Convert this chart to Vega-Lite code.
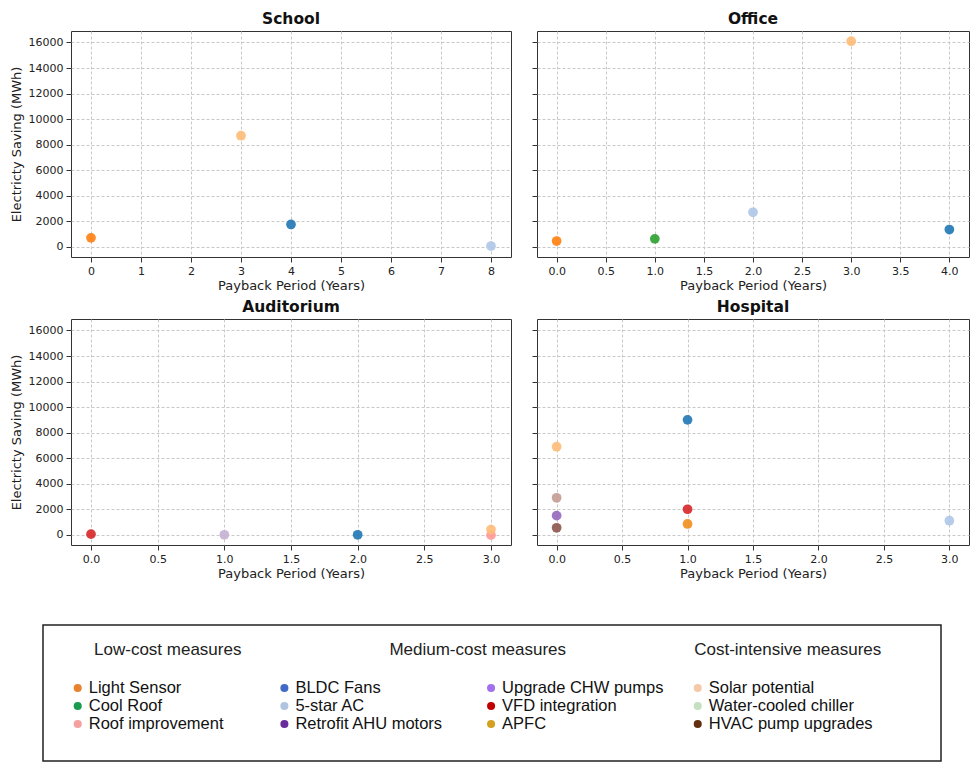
{
  "$schema": "https://vega.github.io/schema/vega-lite/v6.json",
  "data": {"values": [
    {"building": "School", "measure": "Light Sensor", "payback": 0, "saving": 700},
    {"building": "School", "measure": "Solar potential", "payback": 3, "saving": 8700},
    {"building": "School", "measure": "BLDC Fans", "payback": 4, "saving": 1750},
    {"building": "School", "measure": "5-star AC", "payback": 8, "saving": 60},
    {"building": "Office", "measure": "Light Sensor", "payback": 0, "saving": 450},
    {"building": "Office", "measure": "Cool Roof", "payback": 1, "saving": 620},
    {"building": "Office", "measure": "5-star AC", "payback": 2, "saving": 2700},
    {"building": "Office", "measure": "Solar potential", "payback": 3, "saving": 16100},
    {"building": "Office", "measure": "BLDC Fans", "payback": 4, "saving": 1350},
    {"building": "Auditorium", "measure": "VFD integration", "payback": 0, "saving": 50},
    {"building": "Auditorium", "measure": "Retrofit AHU motors", "payback": 1, "saving": 0},
    {"building": "Auditorium", "measure": "BLDC Fans", "payback": 2, "saving": 0},
    {"building": "Auditorium", "measure": "Roof improvement", "payback": 3, "saving": -30},
    {"building": "Auditorium", "measure": "Solar potential", "payback": 3, "saving": 410},
    {"building": "Hospital", "measure": "Solar potential", "payback": 0, "saving": 6900},
    {"building": "Hospital", "measure": "Water-cooled chiller", "payback": 0, "saving": 2900},
    {"building": "Hospital", "measure": "Upgrade CHW pumps", "payback": 0, "saving": 1500},
    {"building": "Hospital", "measure": "HVAC pump upgrades", "payback": 0, "saving": 550},
    {"building": "Hospital", "measure": "BLDC Fans", "payback": 1, "saving": 9000},
    {"building": "Hospital", "measure": "VFD integration", "payback": 1, "saving": 2000},
    {"building": "Hospital", "measure": "APFC", "payback": 1, "saving": 850},
    {"building": "Hospital", "measure": "5-star AC", "payback": 3, "saving": 1100}
  ]},
  "datasets": {
    "legend": [
      {"group": "Low-cost measures", "measure": "Light Sensor", "col": 1, "row": 1},
      {"group": "Low-cost measures", "measure": "Cool Roof", "col": 1, "row": 2},
      {"group": "Low-cost measures", "measure": "Roof improvement", "col": 1, "row": 3},
      {"group": "Medium-cost measures", "measure": "BLDC Fans", "col": 2, "row": 1},
      {"group": "Medium-cost measures", "measure": "5-star AC", "col": 2, "row": 2},
      {"group": "Medium-cost measures", "measure": "Retrofit AHU motors", "col": 2, "row": 3},
      {"group": "Medium-cost measures", "measure": "Upgrade CHW pumps", "col": 3, "row": 1},
      {"group": "Medium-cost measures", "measure": "VFD integration", "col": 3, "row": 2},
      {"group": "Medium-cost measures", "measure": "APFC", "col": 3, "row": 3},
      {"group": "Cost-intensive measures", "measure": "Solar potential", "col": 4, "row": 1},
      {"group": "Cost-intensive measures", "measure": "Water-cooled chiller", "col": 4, "row": 2},
      {"group": "Cost-intensive measures", "measure": "HVAC pump upgrades", "col": 4, "row": 3}
    ],
    "empty": []
  },
  "config": {
    "font": "DejaVu Sans",
    "padding": {"left": 8, "top": 11, "right": 0, "bottom": 0},
    "view": {"stroke": "#333333", "strokeWidth": 1},
    "axis": {
      "labelFont": "DejaVu Sans", "labelFontSize": 11, "labelColor": "#222222",
      "titleFont": "DejaVu Sans", "titleFontSize": 13, "titleFontWeight": "normal", "titleColor": "#222222",
      "tickColor": "#333333", "tickSize": 5, "domain": false,
      "gridColor": "#c8c8c8", "gridDash": [3, 2], "labelPadding": 3
    },
    "axisY": {"titlePadding": 5},
    "axisX": {"titlePadding": 3},
    "title": {"font": "DejaVu Sans", "fontSize": 15.5, "fontWeight": "bold", "color": "#111111", "offset": 4}
  },
  "resolve": {"scale": {"color": "independent"}},
  "spacing": 43,
  "vconcat": [
    {
      "spacing": 0,
      "hconcat": [
        {
          "data": {"name": "empty"},
          "width": 1, "height": 1,
          "view": {"stroke": null},
          "mark": "point",
          "encoding": {}
        },
        {
          "spacing": 6,
          "vconcat": [
            {
              "spacing": 19,
              "hconcat": [
                {
                  "title": "School",
                  "width": 440, "height": 226,
                  "transform": [{"filter": "datum.building === 'School'"}],
                  "mark": {"type": "circle", "size": 95, "opacity": 0.9},
                  "encoding": {
                    "x": {"field": "payback", "type": "quantitative", "title": "Payback Period (Years)",
                          "scale": {"domain": [-0.4, 8.4], "nice": false, "zero": false},
                          "axis": {"values": [0, 1, 2, 3, 4, 5, 6, 7, 8], "format": "d"}},
                    "y": {"field": "saving", "type": "quantitative", "title": "Electricty Saving (MWh)",
                          "scale": {"domain": [-800, 16900], "nice": false, "zero": false},
                          "axis": {"values": [0, 2000, 4000, 6000, 8000, 10000, 12000, 14000, 16000], "format": "d"}},
                    "color": {"field": "measure", "type": "nominal", "legend": null,
                              "scale": {"domain": ["Light Sensor", "Cool Roof", "Roof improvement", "BLDC Fans", "5-star AC", "Retrofit AHU motors", "Upgrade CHW pumps", "VFD integration", "APFC", "Solar potential", "Water-cooled chiller", "HVAC pump upgrades"],
                                        "range": ["#ff7f0e", "#2ca02c", "#ff9896", "#1f77b4", "#aec7e8", "#c5b0d5", "#9467bd", "#d62728", "#f28e1c", "#ffbb78", "#c49c94", "#8c564b"]}}
                  }
                },
                {
                  "title": "Office",
                  "width": 432, "height": 226,
                  "transform": [{"filter": "datum.building === 'Office'"}],
                  "mark": {"type": "circle", "size": 95, "opacity": 0.9},
                  "encoding": {
                    "x": {"field": "payback", "type": "quantitative", "title": "Payback Period (Years)",
                          "scale": {"domain": [-0.2, 4.2], "nice": false, "zero": false},
                          "axis": {"values": [0, 0.5, 1, 1.5, 2, 2.5, 3, 3.5, 4], "format": ".1f"}},
                    "y": {"field": "saving", "type": "quantitative", "title": null,
                          "scale": {"domain": [-800, 16900], "nice": false, "zero": false},
                          "axis": {"values": [0, 2000, 4000, 6000, 8000, 10000, 12000, 14000, 16000], "labels": false}},
                    "color": {"field": "measure", "type": "nominal", "legend": null,
                              "scale": {"domain": ["Light Sensor", "Cool Roof", "Roof improvement", "BLDC Fans", "5-star AC", "Retrofit AHU motors", "Upgrade CHW pumps", "VFD integration", "APFC", "Solar potential", "Water-cooled chiller", "HVAC pump upgrades"],
                                        "range": ["#ff7f0e", "#2ca02c", "#ff9896", "#1f77b4", "#aec7e8", "#c5b0d5", "#9467bd", "#d62728", "#f28e1c", "#ffbb78", "#c49c94", "#8c564b"]}}
                  }
                }
              ]
            },
            {
              "spacing": 19,
              "hconcat": [
                {
                  "title": "Auditorium",
                  "width": 440, "height": 226,
                  "transform": [{"filter": "datum.building === 'Auditorium'"}],
                  "mark": {"type": "circle", "size": 95, "opacity": 0.9},
                  "encoding": {
                    "x": {"field": "payback", "type": "quantitative", "title": "Payback Period (Years)",
                          "scale": {"domain": [-0.15, 3.15], "nice": false, "zero": false},
                          "axis": {"values": [0, 0.5, 1, 1.5, 2, 2.5, 3], "format": ".1f"}},
                    "y": {"field": "saving", "type": "quantitative", "title": "Electricty Saving (MWh)",
                          "scale": {"domain": [-800, 16900], "nice": false, "zero": false},
                          "axis": {"values": [0, 2000, 4000, 6000, 8000, 10000, 12000, 14000, 16000], "format": "d"}},
                    "color": {"field": "measure", "type": "nominal", "legend": null,
                              "scale": {"domain": ["Light Sensor", "Cool Roof", "Roof improvement", "BLDC Fans", "5-star AC", "Retrofit AHU motors", "Upgrade CHW pumps", "VFD integration", "APFC", "Solar potential", "Water-cooled chiller", "HVAC pump upgrades"],
                                        "range": ["#ff7f0e", "#2ca02c", "#ff9896", "#1f77b4", "#aec7e8", "#c5b0d5", "#9467bd", "#d62728", "#f28e1c", "#ffbb78", "#c49c94", "#8c564b"]}}
                  }
                },
                {
                  "title": "Hospital",
                  "width": 432, "height": 226,
                  "transform": [{"filter": "datum.building === 'Hospital'"}],
                  "mark": {"type": "circle", "size": 95, "opacity": 0.9},
                  "encoding": {
                    "x": {"field": "payback", "type": "quantitative", "title": "Payback Period (Years)",
                          "scale": {"domain": [-0.15, 3.15], "nice": false, "zero": false},
                          "axis": {"values": [0, 0.5, 1, 1.5, 2, 2.5, 3], "format": ".1f"}},
                    "y": {"field": "saving", "type": "quantitative", "title": null,
                          "scale": {"domain": [-800, 16900], "nice": false, "zero": false},
                          "axis": {"values": [0, 2000, 4000, 6000, 8000, 10000, 12000, 14000, 16000], "labels": false}},
                    "color": {"field": "measure", "type": "nominal", "legend": null,
                              "scale": {"domain": ["Light Sensor", "Cool Roof", "Roof improvement", "BLDC Fans", "5-star AC", "Retrofit AHU motors", "Upgrade CHW pumps", "VFD integration", "APFC", "Solar potential", "Water-cooled chiller", "HVAC pump upgrades"],
                                        "range": ["#ff7f0e", "#2ca02c", "#ff9896", "#1f77b4", "#aec7e8", "#c5b0d5", "#9467bd", "#d62728", "#f28e1c", "#ffbb78", "#c49c94", "#8c564b"]}}
                  }
                }
              ]
            }
          ]
        }
      ]
    },
    {
      "spacing": 33,
      "hconcat": [
        {
          "data": {"name": "empty"},
          "width": 1, "height": 1,
          "view": {"stroke": null},
          "mark": "point",
          "encoding": {}
        },
        {
          "data": {"name": "legend"},
          "width": 898, "height": 136,
          "view": {"stroke": "#222222", "strokeWidth": 1.5},
          "layer": [
            {
              "mark": {"type": "circle", "size": 65, "opacity": 1},
              "encoding": {
                "x": {"field": "col", "type": "quantitative", "axis": null, "scale": {"domain": [0.832, 5.177], "nice": false, "zero": false}},
                "y": {"field": "row", "type": "quantitative", "axis": null, "scale": {"domain": [-2.5, 5.06], "reverse": true, "nice": false, "zero": false}},
                "color": {"field": "measure", "type": "nominal", "legend": null,
                          "scale": {"domain": ["Light Sensor", "Cool Roof", "Roof improvement", "BLDC Fans", "5-star AC", "Retrofit AHU motors", "Upgrade CHW pumps", "VFD integration", "APFC", "Solar potential", "Water-cooled chiller", "HVAC pump upgrades"],
                                    "range": ["#e8822e", "#1a9b50", "#f4a0a0", "#4169c8", "#b0c4e0", "#6a2c9c", "#a070f0", "#c00000", "#d4a020", "#f5c8a8", "#c4e0c0", "#603010"]}}
              }
            },
            {
              "mark": {"type": "text", "align": "left", "dx": 11, "font": "Liberation Sans", "fontSize": 16.5, "color": "#111111"},
              "encoding": {
                "x": {"field": "col", "type": "quantitative", "axis": null},
                "y": {"field": "row", "type": "quantitative", "axis": null},
                "text": {"field": "measure"}
              }
            },
            {
              "mark": {"type": "text", "align": "center", "dx": 90, "font": "Liberation Sans", "fontSize": 17, "color": "#222222"},
              "encoding": {
                "x": {"aggregate": "mean", "field": "col", "type": "quantitative", "axis": null},
                "y": {"datum": -1.1, "type": "quantitative", "axis": null},
                "text": {"field": "group"}
              }
            }
          ]
        }
      ]
    }
  ]
}
